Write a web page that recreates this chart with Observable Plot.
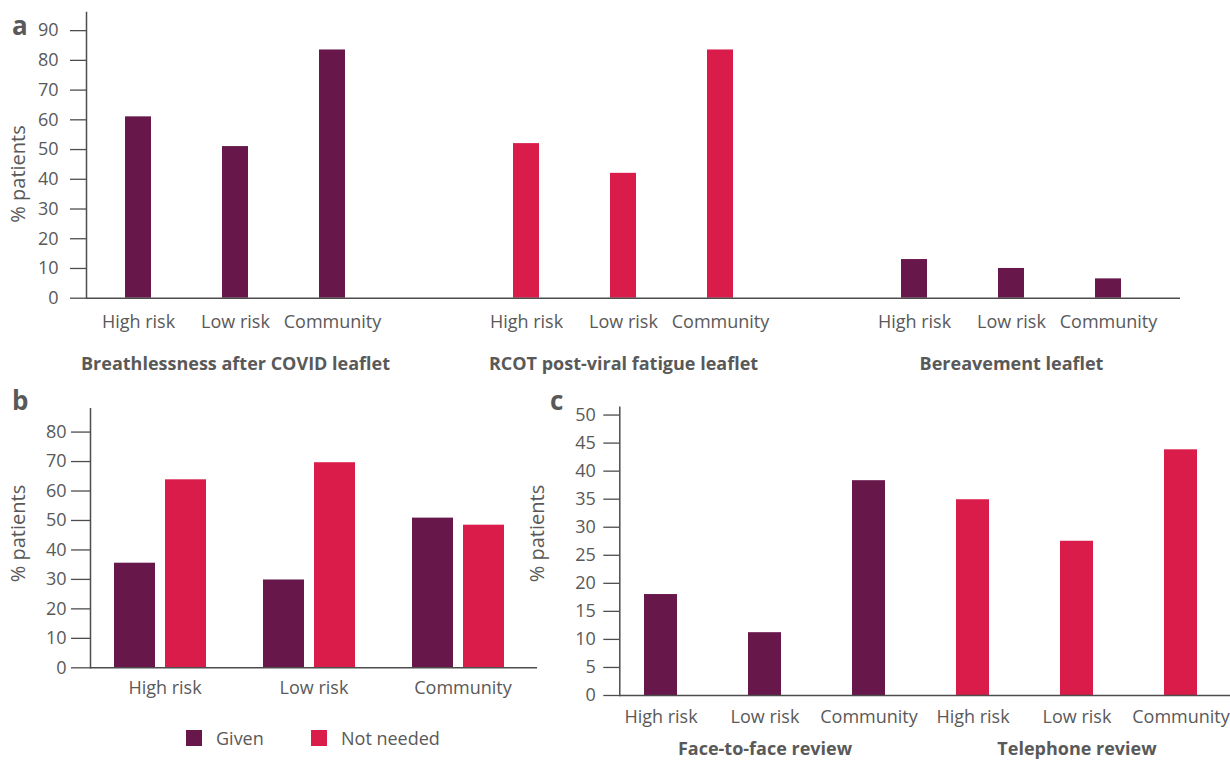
<!DOCTYPE html>
<html>
<head>
<meta charset="utf-8">
<script src="https://cdn.jsdelivr.net/npm/d3@7"></script>
<script src="https://cdn.jsdelivr.net/npm/@observablehq/plot@0.6"></script>
<style>
  html, body { margin: 0; padding: 0; background: #fff; }
  body { width: 1230px; height: 760px; position: relative; overflow: hidden;
         font-family: "Open Sans", sans-serif; color: #595959; }
  .panel { position: absolute; }
  .letter { position: absolute; font-weight: 700; font-size: 26px; line-height: 26px; color: #595959; }
  .legend { position: absolute; top: 730px; height: 16px; display: flex; align-items: center; font-size: 18px; }
  .sw { width: 16px; height: 16px; margin-right: 14px; }
</style>
</head>
<body>
<div id="panelA" class="panel" style="left:0;top:0"></div>
<div id="panelB" class="panel" style="left:0;top:380px"></div>
<div id="panelC" class="panel" style="left:520px;top:380px"></div>
<div class="letter" style="left:12px;top:12px">a</div>
<div class="letter" style="left:12px;top:387px">b</div>
<div class="letter" style="left:550px;top:387px">c</div>
<div id="legend"></div>
<script>
// ---------- data ----------
const categories = ["High risk", "Low risk", "Community"];

// panel a
const groupsA = ["Breathlessness after COVID leaflet", "RCOT post-viral fatigue leaflet", "Bereavement leaflet"];
const breathlessness = [61, 51, 83.5];
const rcotFatigue = [52, 42, 83.5];
const bereavement = [13, 10, 6.5];
const yTicksA = [0, 10, 20, 30, 40, 50, 60, 70, 80, 90];

// panel b
const seriesB = ["Given", "Not needed"];
const givenB = [35.5, 29.8, 50.8];
const notNeededB = [63.8, 69.6, 48.4];
const yTicksB = [0, 10, 20, 30, 40, 50, 60, 70, 80];

// panel c
const groupsC = ["Face-to-face review", "Telephone review"];
const faceToFace = [18.0, 11.2, 38.3];
const telephone = [34.9, 27.5, 43.8];
const yTicksC = [0, 5, 10, 15, 20, 25, 30, 35, 40, 45, 50];

const DARK = "#67174a", RED = "#da1c4a", TEXT = "#595959", AXIS = "#4d4d4d";
const baseStyle = {fontFamily: "'Open Sans', sans-serif", fontSize: "18px", color: TEXT, background: "transparent", overflow: "hidden"};

// ---------- panel a ----------
const valuesA = [breathlessness, rcotFatigue, bereavement];
const rowsA = groupsA.flatMap((g, gi) => categories.map((c, ci) => ({group: g, category: c, key: g + "|" + c, value: valuesA[gi][ci]})));
const domainA = groupsA.flatMap((g, gi) => [...categories.map(c => g + "|" + c), ...(gi < groupsA.length - 1 ? ["gap" + gi] : [])]);

const plotA = Plot.plot({
  width: 1230, height: 380,
  marginLeft: 86, marginRight: 50, marginTop: 12, marginBottom: 82.3,
  style: baseStyle,
  x: {domain: domainA, paddingInner: 0.732, paddingOuter: 0.4995, align: 0.398},
  y: {domain: [0, 96.1]},
  color: {domain: groupsA, range: [DARK, RED, DARK]},
  marks: [
    Plot.barY(rowsA, {x: "key", y: "value", fill: "group"}),
    Plot.ruleY([0], {stroke: AXIS, strokeWidth: 1.5}),
    Plot.frame({anchor: "left", stroke: AXIS, strokeWidth: 1.5}),
    Plot.axisY({ticks: yTicksA, tickSize: 16, tickPadding: 12, label: null, stroke: AXIS, strokeWidth: 1.3, fill: TEXT}),
    Plot.axisX({ticks: rowsA.map(d => d.key), tickFormat: k => k.split("|")[1], tickSize: 0, tickPadding: 17, label: null, fill: TEXT}),
    Plot.text(groupsA, {x: g => g + "|" + categories[1], text: d => d, frameAnchor: "bottom", dy: 66.3, lineAnchor: "middle", fontWeight: "bold", fill: TEXT}),
    Plot.text(["% patients"], {text: d => d, frameAnchor: "left", textAnchor: "middle", rotate: -90, dx: -68.3, dy: 18.6, fontSize: 20, fill: TEXT})
  ]
});
document.getElementById("panelA").append(plotA);

// ---------- panel b ----------
const rowsB = categories.flatMap((c, ci) => [
  {category: c, series: seriesB[0], value: givenB[ci]},
  {category: c, series: seriesB[1], value: notNeededB[ci]}
]);

const plotB = Plot.plot({
  width: 540, height: 330,
  marginLeft: 89, marginRight: 3, marginTop: 28.3, marginBottom: 42.7,
  style: baseStyle,
  fx: {domain: categories, paddingInner: 0, paddingOuter: 0},
  x: {domain: seriesB, paddingInner: 0.2, paddingOuter: 0.555, align: 0.412, axis: null},
  y: {domain: [0, 87.9]},
  color: {domain: seriesB, range: [DARK, RED]},
  marks: [
    Plot.barY(rowsB, {fx: "category", x: "series", y: "value", fill: "series"}),
    Plot.ruleY([0], {stroke: AXIS, strokeWidth: 1.5}),
    Plot.frame({anchor: "left", facetAnchor: "left", stroke: AXIS, strokeWidth: 1.5}),
    Plot.axisY({ticks: yTicksB, tickSize: 19, tickPadding: 5, label: null, stroke: AXIS, strokeWidth: 1.3, fill: TEXT}),
    Plot.axisFx({anchor: "bottom", tickSize: 0, tickPadding: 13, label: null, fill: TEXT}),
    Plot.text([categories[0]], {fx: d => d, text: () => "% patients", frameAnchor: "left", textAnchor: "middle", rotate: -90, dx: -71.5, dy: -4.8, fontSize: 20, fill: TEXT})
  ]
});
document.getElementById("panelB").append(plotB);

// legend for b
const legend = document.getElementById("legend");
const legendPos = [186, 311];
seriesB.forEach((s, i) => {
  const item = document.createElement("div");
  item.className = "legend";
  item.style.left = legendPos[i] + "px";
  const sw = document.createElement("div");
  sw.className = "sw";
  sw.style.background = [DARK, RED][i];
  const label = document.createElement("span");
  label.textContent = s;
  item.append(sw, label);
  legend.append(item);
});

// ---------- panel c ----------
const valuesC = [faceToFace, telephone];
const rowsC = groupsC.flatMap((g, gi) => categories.map((c, ci) => ({group: g, category: c, key: g + "|" + c, value: valuesC[gi][ci]})));

const plotC = Plot.plot({
  width: 710, height: 380,
  marginLeft: 99.3, marginRight: 0, marginTop: 26.7, marginBottom: 65,
  style: baseStyle,
  x: {domain: rowsC.map(d => d.key), paddingInner: 0.6847, paddingOuter: 0.26, align: 0.434},
  y: {domain: [0, 51.4]},
  color: {domain: groupsC, range: [DARK, RED]},
  marks: [
    Plot.barY(rowsC, {x: "key", y: "value", fill: "group"}),
    Plot.ruleY([0], {stroke: AXIS, strokeWidth: 1.5}),
    Plot.frame({anchor: "left", stroke: AXIS, strokeWidth: 1.5}),
    Plot.axisY({ticks: yTicksC, tickSize: 16, tickPadding: 8, label: null, stroke: AXIS, strokeWidth: 1.3, fill: TEXT}),
    Plot.axisX({ticks: rowsC.map(d => d.key), tickFormat: k => k.split("|")[1], tickSize: 0, tickPadding: 15, label: null, fill: TEXT}),
    Plot.text(groupsC, {x: g => g + "|" + categories[1], text: d => d, frameAnchor: "bottom", dy: 54, lineAnchor: "middle", fontWeight: "bold", fill: TEXT}),
    Plot.text(["% patients"], {text: d => d, frameAnchor: "left", textAnchor: "middle", rotate: -90, dx: -81.8, dy: -17.85, fontSize: 20, fill: TEXT})
  ]
});
document.getElementById("panelC").append(plotC);
</script>
</body>
</html>
